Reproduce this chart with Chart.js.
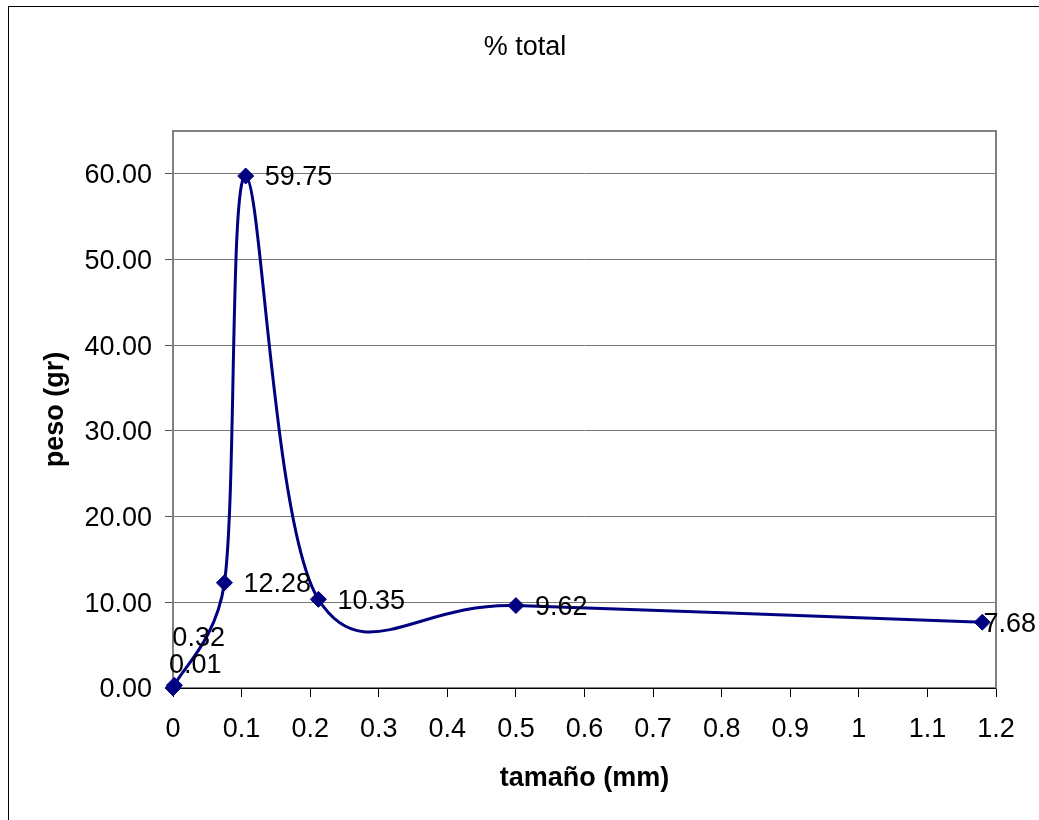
<!DOCTYPE html>
<html>
<head>
<meta charset="utf-8">
<script src="https://cdn.jsdelivr.net/npm/chart.js@4/dist/chart.umd.min.js"></script>
<style>
  html, body { margin: 0; padding: 0; background: #fff; }
  #wrap { width: 1039px; height: 820px; }
</style>
</head>
<body>
<div id="wrap"><canvas id="granChart"></canvas></div>
<script>
// tamaño de tamiz (mm) y % del peso retenido
const sizes = [0, 0.002, 0.075, 0.106, 0.212, 0.5, 1.18];
const weights = [0.01, 0.32, 12.28, 59.75, 10.35, 9.62, 7.68];
const yTickValues = [0, 10, 20, 30, 40, 50, 60];

const FONT = 'Arial, "Liberation Sans", sans-serif';
const FS = 27;

// marco exterior, titulo y borde del area de trazado
const framePlugin = {
	id: 'frame',
	beforeDraw(chart) {
		const ctx = chart.ctx;
		ctx.save();
		ctx.fillStyle = '#fff';
		ctx.fillRect(0, 0, chart.width, chart.height);
		ctx.strokeStyle = '#000';
		ctx.lineWidth = 1;
		ctx.strokeRect(8.5, 6.5, chart.width + 20, chart.height + 20);
		ctx.fillStyle = '#000';
		ctx.font = FS + 'px ' + FONT;
		ctx.textAlign = 'center';
		ctx.textBaseline = 'middle';
		ctx.fillText('% total', 525, 48);
		ctx.restore();
	},
	beforeDatasetsDraw(chart) {
		const a = chart.chartArea;
		const ctx = chart.ctx;
		ctx.save();
		ctx.strokeStyle = '#808080';
		ctx.lineWidth = 2;
		ctx.strokeRect(a.left, a.top, a.right - a.left, a.bottom - a.top);
		ctx.strokeStyle = '#000';
		ctx.lineWidth = 1;
		ctx.beginPath();
		ctx.moveTo(a.left, a.bottom + 0.5);
		ctx.lineTo(a.right, a.bottom + 0.5);
		ctx.stroke();
		ctx.restore();
	}
};

// suavizado tipo Excel: tangente paralela a (siguiente - anterior), brazo 1/6, limitado a medio tramo
const excelSmooth = {
	id: 'excelSmooth',
	beforeDatasetsDraw(chart) {
		const meta = chart.getDatasetMeta(0);
		const line = meta.dataset;
		if (line.updateControlPoints) line.updateControlPoints(chart.chartArea, 'x');
		line._pointsUpdated = true;
		const p = meta.data;
		const n = p.length;
		const dist = (a, b) => Math.hypot(b.x - a.x, b.y - a.y);
		for (let i = 0; i < n - 1; i++) {
			const p1 = p[i], p2 = p[i + 1];
			const p0 = i > 0 ? p[i - 1] : p1;
			const p3 = i + 2 < n ? p[i + 2] : p2;
			const d12 = dist(p1, p2), d02 = dist(p0, p2), d13 = dist(p1, p3);
			let f1 = 1 / 6, f2 = 1 / 6;
			if (d02 * f1 > d12 / 2) f1 = d12 / (2 * d02);
			if (d13 * f2 > d12 / 2) f2 = d12 / (2 * d13);
			p1.cp2x = p1.x + f1 * (p2.x - p0.x);
			p1.cp2y = p1.y + f1 * (p2.y - p0.y);
			p2.cp1x = p2.x - f2 * (p3.x - p1.x);
			p2.cp1y = p2.y - f2 * (p3.y - p1.y);
		}
	}
};

// etiquetas de valor al lado de cada punto
const labelShift = { 0: [-4, -22], 1: [-2, -47] };
const valueLabels = {
	id: 'valueLabels',
	afterDatasetsDraw(chart) {
		const ctx = chart.ctx;
		const meta = chart.getDatasetMeta(0);
		ctx.save();
		ctx.font = FS + 'px ' + FONT;
		ctx.fillStyle = '#000';
		ctx.textBaseline = 'middle';
		ctx.textAlign = 'left';
		meta.data.forEach((pt, i) => {
			const txt = weights[i].toFixed(2);
			const w = ctx.measureText(txt).width;
			const shift = labelShift[i] || [19, 2];
			let x = pt.x + shift[0];
			x = Math.min(x, 1036 - w);
			ctx.fillText(txt, x, pt.y + shift[1]);
		});
		ctx.restore();
	}
};

const points = sizes.map((s, i) => ({ x: s, y: weights[i] }));

new Chart(document.getElementById('granChart'), {
	type: 'scatter',
	data: {
		datasets: [{
			label: '% total',
			data: points,
			showLine: true,
			clip: false,
			tension: 0.4,
			borderColor: '#000080',
			borderWidth: 3,
			backgroundColor: '#000080',
			pointStyle: 'rectRot',
			pointRadius: 8,
			pointBorderWidth: 1,
			pointBorderColor: '#000080',
			pointBackgroundColor: '#000080'
		}]
	},
	options: {
		responsive: true,
		maintainAspectRatio: false,
		animation: false,
		layout: { padding: { left: 0, top: 131, right: 43, bottom: 0 } },
		plugins: {
			legend: { display: false },
			tooltip: { enabled: false },
			title: { display: false }
		},
		scales: {
			x: {
				type: 'linear',
				min: 0,
				max: 1.2,
				border: { display: false },
				grid: { drawOnChartArea: false, drawTicks: true, tickLength: 9, tickColor: '#000', lineWidth: 1 },
				ticks: {
					stepSize: 0.1,
					color: '#000',
					padding: 16,
					maxRotation: 0,
					font: { family: FONT, size: FS },
					callback: v => String(Number(v.toFixed(1)))
				},
				title: {
					display: true,
					text: 'tamaño (mm)',
					color: '#000',
					font: { family: FONT, size: FS, weight: 'bold' },
					padding: { top: 0, bottom: 25 }
				},
				afterFit(scale) { scale.height = 132; }
			},
			y: {
				type: 'linear',
				min: 0,
				max: 65,
				border: { display: false },
				grid: { color: '#777', lineWidth: 1, tickLength: 8, tickColor: '#555' },
				ticks: {
					color: '#000',
					padding: 13,
					labelOffset: 2,
					font: { family: FONT, size: FS },
					callback: v => v.toFixed(2)
				},
				afterBuildTicks(scale) {
					scale.ticks = yTickValues.map(v => ({ value: v }));
				},
				title: {
					display: true,
					text: 'peso (gr)',
					color: '#000',
					font: { family: FONT, size: FS, weight: 'bold' },
					padding: { top: 39, bottom: 0 }
				},
				afterFit(scale) { scale.width = 173; }
			}
		}
	},
	plugins: [framePlugin, excelSmooth, valueLabels]
});
</script>
</body>
</html>
